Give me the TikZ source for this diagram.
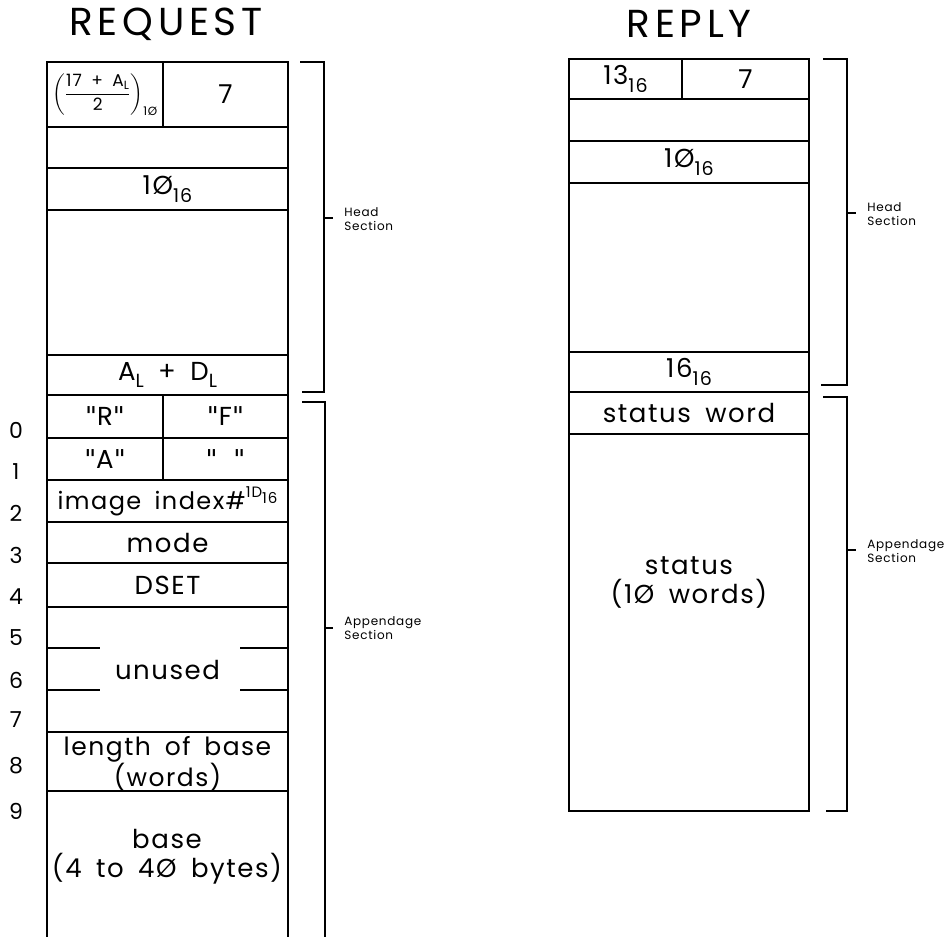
\documentclass[tikz,border=0pt]{standalone}
\usepackage{fontspec}
\setmainfont[LetterSpace=6,WordSpace=1.7]{Poppins}
\newfontfamily\titlefont[LetterSpace=12]{Poppins}
\newfontfamily\qfont{DejaVu Sans}
\usepackage{amsmath}
\usetikzlibrary{positioning}

\newcommand{\zs}{Ø}
\newcommand{\dq}{{\qfont"}}
\newcommand{\lowidx}[1]{\raisebox{-0.55ex}{\fontsize{19}{19}\selectfont #1}}

\begin{document}
\begin{tikzpicture}[
  x=1pt, y=-1pt,
  font=\fontsize{26}{29}\selectfont,
  line width=2pt,
  cell/.style={draw, rectangle, inner sep=0pt, outer sep=0pt, align=center,
               anchor=north west, minimum width=#1},
  cell/.default=241pt,
  rowno/.style={font=\fontsize{22}{22}\selectfont},
  sect/.style={anchor=west, align=left, font=\fontsize{12}{14}\selectfont},
  title/.style={font=\titlefont\fontsize{39}{39}\selectfont},
  txt/.style={align=center}
]
\useasboundingbox (0,0) rectangle (951,937);
\coordinate (bot) at (0,945);

\node[title] (reqtitle) at (166,24) {REQUEST};
\node[title] (reptitle) at (689,24) {REPLY};

% request message
\node[cell=116pt, minimum height=65pt, font=\fontsize{17}{17}\selectfont] (rq1a) at (47,62)
  {$\left(\dfrac{\text{17 + A}_{\text{L}}}{\text{2}}\right)_{\text{1\zs}}$};
\node[cell=125pt, minimum height=65pt] (rq1b) at (rq1a.north east) {7};
\node[cell, minimum height=41pt] (rq2) at (rq1a.south west) {};
\node[cell, minimum height=42pt] (rq3) at (rq2.south west) {1\zs\lowidx{16}};
\node[cell, minimum height=145pt] (rq4) at (rq3.south west) {};
\node[cell, minimum height=40pt] (rq5) at (rq4.south west) {A\lowidx{L} + D\lowidx{L}};
\node[cell=116pt, minimum height=43pt] (rq6a) at (rq5.south west) {\dq R\dq};
\node[cell=125pt, minimum height=43pt] (rq6b) at (rq6a.north east) {\dq F\dq};
\node[cell=116pt, minimum height=42pt] (rq7a) at (rq6a.south west) {\dq A\dq};
\node[cell=125pt, minimum height=42pt] (rq7b) at (rq7a.north east) {\dq\hspace{0.6em}\dq};
\node[cell, minimum height=42pt, font=\fontsize{24}{24}\selectfont] (rq8) at (rq7a.south west)
  {image index\#\raisebox{0.9ex}{\fontsize{15}{15}\selectfont 1D\raisebox{-0.7ex}{16}}};
\node[cell, minimum height=41pt] (rq9) at (rq8.south west) {mode};
\node[cell, minimum height=44pt] (rq10) at (rq9.south west) {DSET};
\node[cell, minimum height=125pt] (rq11) at (rq10.south west) {unused};
\node[cell, minimum height=59pt] (rq12) at (rq11.south west) {};
\node[txt, font=\fontsize{25}{25}\selectfont] (rqlen) at ([yshift=-2pt]rq12.center)
  {length of base\\(words)};
\draw (rq12.south west) -- (rq12.south west |- bot);
\draw (rq12.south east) -- (rq12.south east |- bot);
\node[txt] (rqbase) at (167,857) {base\\(4 to 4\zs\ bytes)};

% broken lines of the unused words
\draw (47,648) -- (100,648) (240,648) -- (288,648);
\draw (47,690) -- (100,690) (240,690) -- (288,690);

\foreach \n/\yy in {0/430,1/472,2/513,3/555,4/597,5/638,6/680,7/720,8/766,9/811}
  \node[rowno] (no\n) at (16,\yy) {\n};

% request brackets
\draw (300,62) -- (324,62) -- (324,392) -- (302,392);
\draw (324,218) -- (333,218);
\node[sect] (rqhead) at (340,219) {Head\\Section};
\draw (302,402) -- (325,402) -- (325,945);
\draw (325,628) -- (333,628);
\node[sect] (rqapp) at (340,628) {Appendage\\Section};

% reply message
\node[cell=113pt, minimum height=40pt] (rp1a) at (569,59) {13\lowidx{16}};
\node[cell=127pt, minimum height=40pt] (rp1b) at (rp1a.north east) {7};
\node[cell=240pt, minimum height=42pt] (rp2) at (rp1a.south west) {};
\node[cell=240pt, minimum height=42pt] (rp3) at (rp2.south west) {1\zs\lowidx{16}};
\node[cell=240pt, minimum height=169pt] (rp4) at (rp3.south west) {};
\node[cell=240pt, minimum height=40pt] (rp5) at (rp4.south west) {16\lowidx{16}};
\node[cell=240pt, minimum height=42pt] (rp6) at (rp5.south west) {status word};
\node[cell=240pt, minimum height=377pt] (rp7) at (rp6.south west) {};
\node[txt] (rpstat) at (689,582) {status\\(1\zs\ words)};

% reply brackets
\draw (823,59) -- (847,59) -- (847,385) -- (821,385);
\draw (847,213) -- (856,213);
\node[sect] (rphead) at (863,214) {Head\\Section};
\draw (823,397) -- (847,397) -- (847,811) -- (826,811);
\draw (847,550) -- (856,550);
\node[sect] (rpapp) at (863,551) {Appendage\\Section};
\end{tikzpicture}
\end{document}
